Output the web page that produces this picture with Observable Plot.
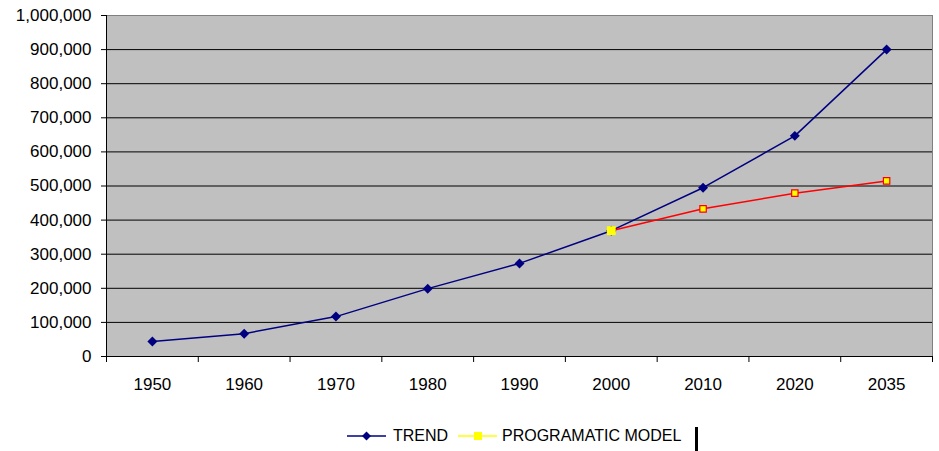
<!DOCTYPE html>
<html>
<head>
<meta charset="utf-8">
<script src="https://cdn.jsdelivr.net/npm/d3@7"></script>
<script src="https://cdn.jsdelivr.net/npm/@observablehq/plot@0.6"></script>
<style>
  body { margin: 0; background: #fff; font-family: "Liberation Sans", Arial, sans-serif; }
  #wrap { position: relative; width: 939px; height: 451px; }
  #legend { position: absolute; left: 0; top: 420px; width: 939px; height: 31px; font-size: 16px; color: #000; }
  #legend .t { position: absolute; top: 6px; line-height: 20px; white-space: nowrap; }
  #legend svg { position: absolute; left: 0; top: 0; }
</style>
</head>
<body>
<div id="wrap">
  <div id="chart"></div>
  <div id="legend"></div>
</div>
<script>
const years = ["1950", "1960", "1970", "1980", "1990", "2000", "2010", "2020", "2035"];
const trend = [44000, 67000, 117000, 199000, 273000, 369000, 495000, 647000, 900000];
const modelYears = ["2000", "2010", "2020", "2035"];
const model = [369000, 433000, 479000, 515000];
const yTicks = [0, 100000, 200000, 300000, 400000, 500000, 600000, 700000, 800000, 900000, 1000000];
const seriesNames = ["TREND", "PROGRAMATIC MODEL"];

const trendData = years.map((y, i) => ({x: i + 0.5, y: trend[i]}));
const modelData = modelYears.map((y, i) => ({x: years.indexOf(y) + 0.5, y: model[i]}));

const chart = Plot.plot({
  width: 939,
  height: 420,
  marginLeft: 106,
  marginRight: 7,
  marginTop: 15,
  marginBottom: 64,
  style: {background: "#fff", color: "#000", fontSize: "17px", fontFamily: "'Liberation Sans', Arial, sans-serif"},
  x: {domain: [0, years.length]},
  y: {domain: [0, 1000000]},
  marks: [
    Plot.frame({fill: "#c0c0c0", stroke: "#808080"}),
    Plot.gridY(yTicks.slice(0, -1), {stroke: "#000", strokeOpacity: 1}),
    Plot.ruleX([0], {stroke: "#000"}),
    Plot.ruleY([0], {stroke: "#000"}),
    Plot.axisY(yTicks, {tickFormat: d3.format(","), tickSize: 5, tickPadding: 10, fontSize: 17, label: null}),
    Plot.axisX(d3.range(years.length + 1), {tickFormat: () => "", tickSize: 6, label: null}),
    Plot.axisX(years.map((d, i) => i + 0.5), {tickFormat: d => years[Math.floor(d)], tickSize: 0, tickPadding: 21, fontSize: 17, label: null}),
    Plot.line(trendData, {x: "x", y: "y", stroke: "#000080", strokeWidth: 1.5}),
    Plot.dot(trendData, {x: "x", y: "y", symbol: "diamond2", r: 4.5, fill: "#000080", stroke: "none"}),
    Plot.line(modelData, {x: "x", y: "y", stroke: "#ff0000", strokeWidth: 1.5}),
    Plot.dot(modelData.slice(0, 1), {x: "x", y: "y", symbol: "square", r: 5, fill: "#ffff00", stroke: "none"}),
    Plot.dot(modelData.slice(1), {x: "x", y: "y", symbol: "square", r: 3.6, fill: "#ffff00", stroke: "#ff0000", strokeWidth: 1.2})
  ]
});
document.getElementById("chart").appendChild(chart);

// Legend
const legend = document.getElementById("legend");
const ns = "http://www.w3.org/2000/svg";
const lsvg = document.createElementNS(ns, "svg");
lsvg.setAttribute("width", 939);
lsvg.setAttribute("height", 31);
lsvg.innerHTML = `
  <line x1="347" x2="386" y1="16" y2="16" stroke="#000080" stroke-width="1.5"/>
  <path d="M366.5,11.5L371,16L366.5,20.5L362,16Z" fill="#000080"/>
  <line x1="458" x2="497" y1="16" y2="16" stroke="#ffff00" stroke-width="1.5"/>
  <rect x="474" y="12" width="8" height="8" fill="#ffff00"/>
  <rect x="695" y="7" width="3" height="24" fill="#000"/>
`;
legend.appendChild(lsvg);
const t1 = document.createElement("span");
t1.className = "t"; t1.style.left = "393px"; t1.textContent = seriesNames[0];
const t2 = document.createElement("span");
t2.className = "t"; t2.style.left = "502px"; t2.textContent = seriesNames[1];
legend.appendChild(t1);
legend.appendChild(t2);
</script>
</body>
</html>
